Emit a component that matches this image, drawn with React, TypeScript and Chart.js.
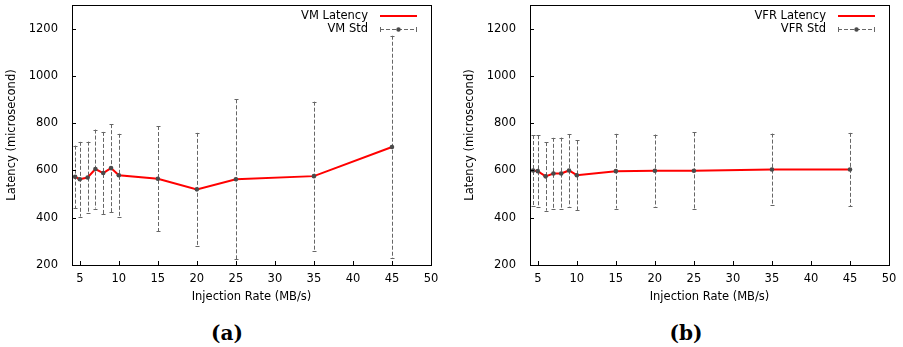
import React, { useEffect, useRef } from "react";
import { Chart, registerables } from "chart.js";

Chart.register(...registerables);

const injectionRates = [4.4, 5, 6, 7, 8, 9, 10, 15, 20, 25, 35, 45];
const vmLatency = [573, 563, 570, 606, 589, 610, 580, 565, 520, 563, 576, 699];
const vmStd = [132, 158, 152, 167, 174, 186, 175, 223, 239, 338, 315, 471];
const vfrLatency = [600, 597, 575, 587, 587, 600, 580, 597, 599, 599, 604, 604];
const vfrStd = [150, 152, 145, 151, 152, 153, 147, 158, 153, 162, 152, 155];
const xTickValues = [5, 10, 15, 20, 25, 30, 35, 40, 45, 50];
const yTickValues = [200, 400, 600, 800, 1000, 1200];

const FONT = "'DejaVu Sans', sans-serif";
const FS = 11.5;
const GREY = "#666666";
const DOT = "#4a4a4a";

const framePlugin = {
  id: "frame",
  beforeDatasetsDraw(chart: any) {
    const ctx = chart.ctx;
    const ds = chart.data.datasets[0];
    const errs: number[] = ds.errors || [];
    const xs = chart.scales.x;
    const ys = chart.scales.y;
    ctx.save();
    ctx.strokeStyle = GREY;
    ctx.lineWidth = 1;
    ds.data.forEach((p: any, i: number) => {
      const e = errs[i];
      const x = Math.round(xs.getPixelForValue(p.x)) + 0.5;
      const yt = ys.getPixelForValue(p.y + e);
      const yb = ys.getPixelForValue(p.y - e);
      ctx.setLineDash([4, 2]);
      ctx.beginPath();
      ctx.moveTo(x, yt);
      ctx.lineTo(x, yb);
      ctx.stroke();
      ctx.setLineDash([]);
      ctx.beginPath();
      ctx.moveTo(x - 2, Math.round(yt) + 0.5);
      ctx.lineTo(x + 2, Math.round(yt) + 0.5);
      ctx.moveTo(x - 2, Math.round(yb) + 0.5);
      ctx.lineTo(x + 2, Math.round(yb) + 0.5);
      ctx.stroke();
    });
    ctx.restore();
  },
  afterDraw(chart: any) {
    const ctx = chart.ctx;
    const a = chart.chartArea;
    const xs = chart.scales.x;
    const ys = chart.scales.y;
    ctx.save();
    ctx.strokeStyle = "#000";
    ctx.lineWidth = 1;
    ctx.strokeRect(Math.round(a.left) + 0.5, Math.round(a.top) + 0.5, Math.round(a.right - a.left), Math.round(a.bottom - a.top));
    ctx.beginPath();
    yTickValues.forEach((v) => {
      const y = Math.round(ys.getPixelForValue(v)) + 0.5;
      ctx.moveTo(a.left, y);
      ctx.lineTo(a.left + 4, y);
    });
    xTickValues.forEach((v) => {
      const x = Math.round(xs.getPixelForValue(v)) + 0.5;
      ctx.moveTo(x, a.bottom);
      ctx.lineTo(x, a.bottom - 4);
    });
    ctx.stroke();

    // legend
    const names = chart.options.plugins.customLegend.names;
    const textRight = a.right - 63;
    const l0 = a.right - 51;
    const l1 = a.right - 14;
    const r1 = a.top + 11;
    const r2 = a.top + 24;
    ctx.font = `${FS}px ${FONT}`;
    ctx.fillStyle = "#000";
    ctx.textAlign = "right";
    ctx.textBaseline = "middle";
    ctx.fillText(names[0], textRight, r1);
    ctx.fillText(names[1], textRight, r2);
    ctx.strokeStyle = "#ff0000";
    ctx.lineWidth = 2;
    ctx.beginPath();
    ctx.moveTo(l0, r1);
    ctx.lineTo(l1, r1);
    ctx.stroke();
    ctx.strokeStyle = GREY;
    ctx.lineWidth = 1;
    ctx.setLineDash([4, 2]);
    ctx.beginPath();
    ctx.moveTo(l0, r2 + 0.5);
    ctx.lineTo(l1, r2 + 0.5);
    ctx.stroke();
    ctx.setLineDash([]);
    ctx.beginPath();
    ctx.moveTo(l0 + 0.5, r2 - 2);
    ctx.lineTo(l0 + 0.5, r2 + 3);
    ctx.moveTo(l1 - 0.5, r2 - 2);
    ctx.lineTo(l1 - 0.5, r2 + 3);
    ctx.stroke();
    ctx.fillStyle = DOT;
    ctx.beginPath();
    ctx.arc((l0 + l1) / 2, r2 + 0.5, 2.2, 0, Math.PI * 2);
    ctx.fill();
    ctx.restore();
  },
};

function LatencyChart(props: { latency: number[]; std: number[]; names: string[] }) {
  const ref = useRef<HTMLCanvasElement>(null);
  useEffect(() => {
    if (!ref.current) return;
    const pts = injectionRates.map((x, i) => ({ x, y: props.latency[i] }));
    const chart = new Chart(ref.current, {
      type: "scatter",
      data: {
        datasets: [
          {
            label: props.names[1],
            data: pts,
            errors: props.std,
            showLine: false,
            pointRadius: 2.3,
            pointBackgroundColor: DOT,
            pointBorderWidth: 0,
          } as any,
          {
            label: props.names[0],
            data: pts,
            showLine: true,
            borderColor: "#ff0000",
            borderWidth: 2,
            pointRadius: 0,
            tension: 0,
          },
        ],
      },
      options: {
        animation: false,
        responsive: false,
        maintainAspectRatio: false,
        layout: { padding: { left: 0, right: 14, top: 5, bottom: 0 } },
        plugins: {
          legend: { display: false },
          tooltip: { enabled: false },
          customLegend: { names: props.names },
        } as any,
        scales: {
          x: {
            type: "linear",
            min: 4,
            max: 50,
            grid: { display: false, drawTicks: false },
            border: { display: false },
            afterBuildTicks: (s: any) => {
              s.ticks = xTickValues.map((v) => ({ value: v }));
            },
            afterFit: (s: any) => {
              s.height = 45;
              s.paddingLeft = 0;
              s.paddingRight = 0;
            },
            ticks: {
              autoSkip: false,
              maxRotation: 0,
              padding: 7,
              color: "#000",
              font: { family: FONT, size: FS },
              callback: (v: any) => String(v),
            },
            title: {
              display: true,
              text: "Injection Rate (MB/s)",
              color: "#000",
              font: { family: FONT, size: FS },
              padding: { top: 0, bottom: 6 },
            },
          },
          y: {
            type: "linear",
            min: 200,
            max: 1300,
            grid: { display: false, drawTicks: false },
            border: { display: false },
            afterBuildTicks: (s: any) => {
              s.ticks = yTickValues.map((v) => ({ value: v }));
            },
            afterFit: (s: any) => {
              s.width = 72;
              s.paddingTop = 0;
              s.paddingBottom = 0;
            },
            ticks: {
              autoSkip: false,
              padding: 14,
              color: "#000",
              font: { family: FONT, size: FS },
              callback: (v: any) => String(v),
            },
            title: {
              display: true,
              text: "Latency (microsecond)",
              color: "#000",
              font: { family: FONT, size: FS },
              padding: { top: 5, bottom: 0 },
            },
          },
        },
      },
      plugins: [framePlugin],
    });
    return () => chart.destroy();
  }, []);
  return <canvas ref={ref} width={445} height={310} style={{ width: 445, height: 310, display: "block" }} />;
}

const captionStyle: React.CSSProperties = {
  position: "absolute",
  top: 319,
  width: 60,
  textAlign: "center",
  fontFamily: "'DejaVu Serif', serif",
  fontWeight: "bold",
  fontSize: 20,
  lineHeight: "28px",
  color: "#000",
};

export default function App() {
  return (
    <div style={{ position: "absolute", left: 0, top: 0, width: 903, height: 347, background: "#fff", overflow: "hidden" }}>
      <div style={{ position: "absolute", left: 0, top: 0 }}>
        <LatencyChart latency={vmLatency} std={vmStd} names={["VM Latency", "VM Std"]} />
      </div>
      <div style={{ position: "absolute", left: 458, top: 0 }}>
        <LatencyChart latency={vfrLatency} std={vfrStd} names={["VFR Latency", "VFR Std"]} />
      </div>
      <div style={{ ...captionStyle, left: 197 }}>(a)</div>
      <div style={{ ...captionStyle, left: 656 }}>(b)</div>
    </div>
  );
}
